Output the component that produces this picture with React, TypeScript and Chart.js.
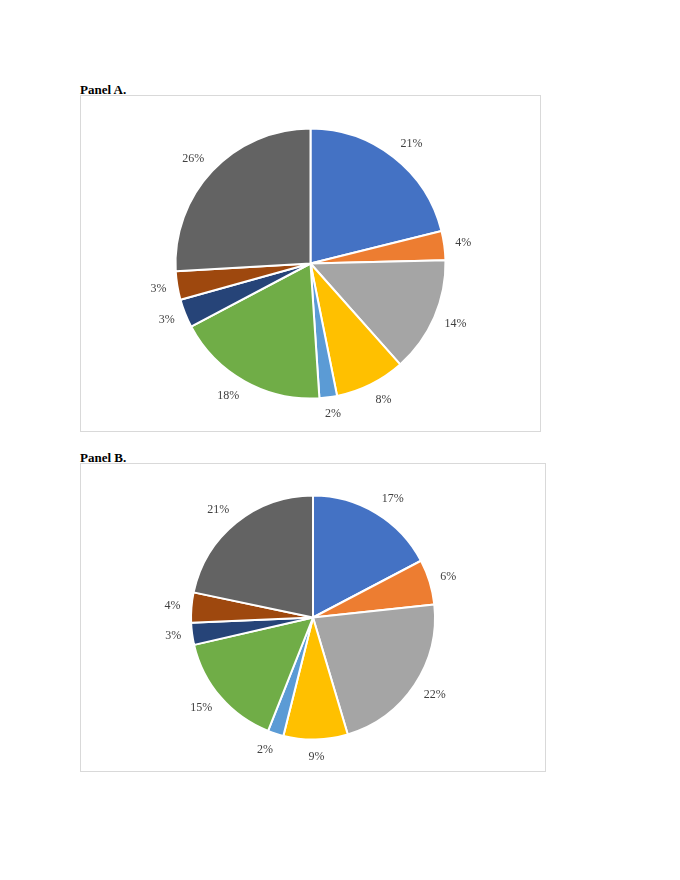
import React, { useEffect, useRef } from "react";
import { Chart, registerables } from "chart.js";

Chart.register(...registerables);

const categories = ["C1", "C2", "C3", "C4", "C5", "C6", "C7", "C8", "C9"];
const colors = ["#4472C4", "#ED7D31", "#A5A5A5", "#FFC000", "#5B9BD5", "#70AD47", "#264478", "#9E480E", "#636363"];

const panelAValues = [21.1, 3.5, 13.8, 8.4, 2.1, 18.3, 3.4, 3.4, 25.9];
const panelALabels = ["21%", "4%", "14%", "8%", "2%", "18%", "3%", "3%", "26%"];

const panelBValues = [17.3, 6.0, 22.1, 8.5, 2.1, 15.4, 2.9, 4.0, 21.7];
const panelBLabels = ["17%", "6%", "22%", "9%", "2%", "15%", "3%", "4%", "21%"];

const outsideLabels = {
  id: "outsideLabels",
  afterDatasetsDraw(chart: any, _args: any, opts: any) {
    const ctx = chart.ctx;
    const meta = chart.getDatasetMeta(0);
    const labels: string[] = opts.labels || [];
    const gap = opts.gap ?? 11;
    ctx.save();
    ctx.font = "12px 'Liberation Serif', 'Times New Roman', serif";
    ctx.fillStyle = "#404040";
    ctx.textAlign = "center";
    ctx.textBaseline = "middle";
    meta.data.forEach((arc: any, i: number) => {
      const p = arc.getProps(["x", "y", "startAngle", "endAngle", "outerRadius"], true);
      const mid = (p.startAngle + p.endAngle) / 2;
      const c = Math.cos(mid);
      const s = Math.sin(mid);
      const hw = ctx.measureText(labels[i]).width / 2;
      const hh = 6;
      const d = p.outerRadius + gap;
      const kx = Math.max(-1, Math.min(1, c * 3));
      ctx.fillText(labels[i], p.x + c * d + hw * kx, p.y + s * d + hh * s);
    });
    ctx.restore();
  },
};

function PieChart({ values, labels, radius, width, height }: { values: number[]; labels: string[]; radius: number; width: number; height: number }) {
  const ref = useRef<HTMLCanvasElement>(null);
  useEffect(() => {
    if (!ref.current) return;
    const chart = new Chart(ref.current, {
      type: "pie",
      data: {
        labels: categories,
        datasets: [
          {
            data: values,
            backgroundColor: colors,
            borderColor: "#ffffff",
            borderWidth: 2,
          },
        ],
      },
      options: {
        animation: false,
        responsive: false,
        radius: radius,
        layout: { padding: 0 },
        plugins: {
          legend: { display: false },
          tooltip: { enabled: false },
          outsideLabels: { labels, gap: 11 },
        } as any,
      } as any,
      plugins: [outsideLabels],
    });
    return () => chart.destroy();
  }, []);
  return <canvas ref={ref} width={width} height={height} style={{ display: "block", width, height }} />;
}

const titleStyle: React.CSSProperties = {
  position: "absolute",
  fontFamily: "'Liberation Serif', 'Times New Roman', serif",
  fontWeight: "bold",
  fontSize: 13,
  color: "#000",
  lineHeight: "13px",
};

export default function App() {
  // body margin 8px -> subtract 8 from page coordinates
  return (
    <div style={{ position: "relative", width: 664, height: 864 }}>
      <div style={{ ...titleStyle, left: 72, top: 75 }}>Panel A.</div>
      <div style={{ position: "absolute", left: 72, top: 87, width: 461, height: 337, border: "1px solid #d9d9d9", boxSizing: "border-box" }}>
        <PieChart values={panelAValues} labels={panelALabels} radius={135} width={459} height={335} />
      </div>
      <div style={{ ...titleStyle, left: 72, top: 443 }}>Panel B.</div>
      <div style={{ position: "absolute", left: 72, top: 455, width: 466, height: 309, border: "1px solid #d9d9d9", boxSizing: "border-box" }}>
        <PieChart values={panelBValues} labels={panelBLabels} radius={122} width={464} height={307} />
      </div>
    </div>
  );
}
